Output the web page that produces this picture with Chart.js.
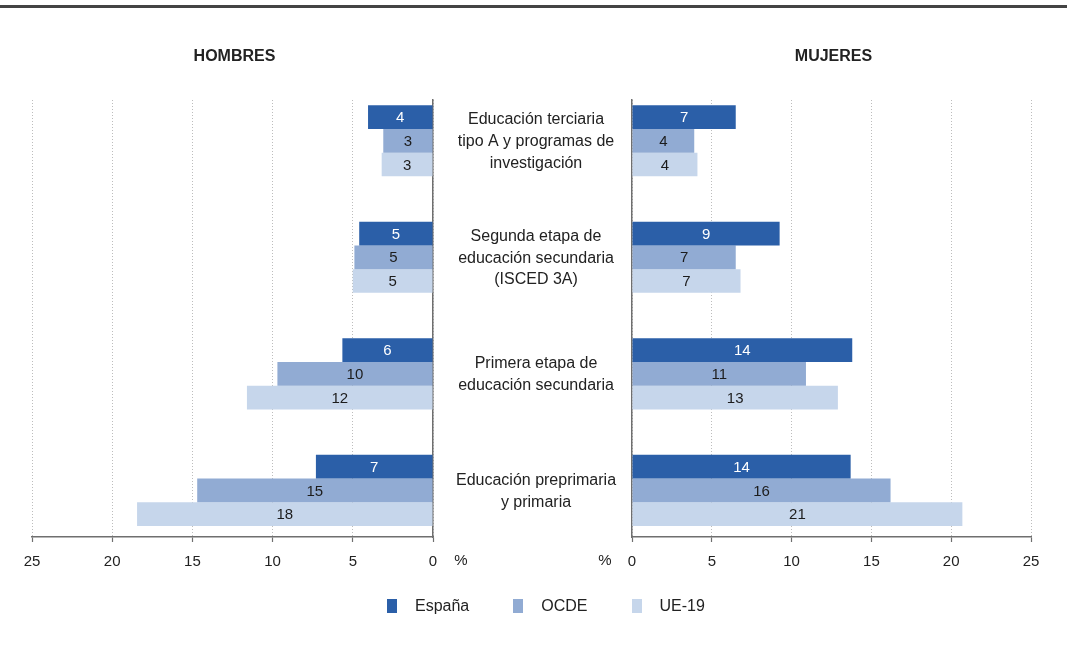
<!DOCTYPE html>
<html lang="es">
<head>
<meta charset="utf-8">
<title>Hombres / Mujeres</title>
<script src="https://cdn.jsdelivr.net/npm/chart.js@4.4.1/dist/chart.umd.min.js"></script>
<style>
  html, body { margin: 0; padding: 0; background: #fff; }
  #wrap { position: relative; width: 1067px; height: 669px; background: #fff; overflow: hidden;
          font-family: 'Liberation Sans', Arial, sans-serif; color: #222; }
  #wrap canvas { position: absolute; left: 0; top: 0; }
  #topline { position: absolute; left: 0; top: 5px; width: 1067px; height: 3px; background: #444; }
  #legend { position: absolute; left: 387px; top: 597px; display: flex; align-items: center; gap: 44px; font-size: 16px; }
  #legend .item { display: flex; align-items: center; }
  #legend .sw { width: 10px; height: 14px; margin-right: 18px; }
</style>
</head>
<body>
<div id="wrap">
  <div id="topline"></div>
  <canvas id="left-chart" width="1067" height="669"></canvas>
  <canvas id="right-chart" width="1067" height="669"></canvas>
  <div id="legend"></div>
</div>
<script>
// ── Data ──────────────────────────────────────────────────────
const categories = [
  ['Educación terciaria', 'tipo A y programas de', 'investigación'],
  ['Segunda etapa de', 'educación secundaria', '(ISCED 3A)'],
  ['Primera etapa de', 'educación secundaria'],
  ['Educación preprimaria', 'y primaria'],
];
const seriesNames = ['España', 'OCDE', 'UE-19'];
const seriesColors = ['#2b5fa8', '#91abd3', '#c6d6eb'];
const labelColors = ['#ffffff', '#1c1c1c', '#1c1c1c'];

const hombresEspana = [4.05, 4.6, 5.65, 7.3];
const hombresOcde   = [3.1, 4.9, 9.7, 14.7];
const hombresUe19   = [3.2, 5.0, 11.6, 18.45];

const mujeresEspana = [6.5, 9.25, 13.8, 13.7];
const mujeresOcde   = [3.9, 6.5, 10.9, 16.2];
const mujeresUe19   = [4.1, 6.8, 12.9, 20.7];

const xTicks = [0, 5, 10, 15, 20, 25];

const FONT = "'Liberation Sans', Arial, sans-serif";
const TEXT = '#222';

// ── Helpers ───────────────────────────────────────────────────
function makeDatasets(seriesValues) {
  return seriesValues.map((vals, s) => ({
    label: seriesNames[s],
    data: vals.map((v, i) => ({ x: v, y: i })),
    backgroundColor: seriesColors[s],
    borderWidth: 0,
    categoryPercentage: 0.61,
    barPercentage: 1,
  }));
}

function xScale(reverse) {
  return {
    type: 'linear', min: 0, max: 25, reverse,
    afterBuildTicks: (axis) => { axis.ticks = xTicks.map(v => ({ value: v })); },
    grid: { color: '#bdbdbd', lineWidth: 1, tickLength: 5, tickColor: '#6f6f6f', tickWidth: 1.2, tickBorderDash: [] },
    border: { color: '#6f6f6f', width: 1.5, dash: [1, 2] },
    ticks: { color: TEXT, padding: 11, font: { family: FONT, size: 15 } },
  };
}

function yScale(position) {
  return {
    type: 'linear', position, reverse: true, offset: false,
    min: -0.35, max: 3.4,
    // one tick per category so bar thickness follows the category spacing
    afterBuildTicks: (axis) => { axis.ticks = categories.map((c, i) => ({ value: i })); },
    grid: { display: false, drawTicks: false },
    border: { color: '#6f6f6f', width: 1.5 },
    ticks: { display: false },
  };
}

// labels inside the bars, titles, % marks
const decorations = {
  id: 'decorations',
  afterDatasetsDraw(chart) {
    const { ctx } = chart;
    ctx.save();
    ctx.font = `15px ${FONT}`;
    ctx.textAlign = 'center';
    ctx.textBaseline = 'middle';
    chart.data.datasets.forEach((ds, di) => {
      chart.getDatasetMeta(di).data.forEach((bar, i) => {
        const { x, y, base } = bar.getProps(['x', 'y', 'base'], true);
        ctx.fillStyle = labelColors[di];
        ctx.fillText(String(Math.round(ds.data[i].x)), (x + base) / 2, y + 1);
      });
    });
    ctx.restore();
  },
  afterDraw(chart, args, opts) {
    const { ctx, chartArea } = chart;
    const xs = chart.scales.x, ys = chart.scales.y;
    ctx.save();
    ctx.fillStyle = TEXT;
    ctx.textAlign = 'center';
    ctx.textBaseline = 'middle';
    ctx.font = `bold 16px ${FONT}`;
    ctx.fillText(opts.title, (chartArea.left + chartArea.right) / 2 + 2, 57);

    ctx.font = `15px ${FONT}`;
    ctx.fillText('%', xs.getPixelForValue(0) + opts.pct, 561);

    if (opts.categories) {
      ctx.font = `16px ${FONT}`;
      const lh = 21.7;
      categories.forEach((lines, i) => {
        const cy = ys.getPixelForValue(i) + 1;
        lines.forEach((line, k) => {
          ctx.fillText(line, 536, cy + (k - (lines.length - 1) / 2) * lh);
        });
      });
    }
    ctx.restore();
  },
};

function buildChart(id, seriesValues, side) {
  const isLeft = side === 'left';
  return new Chart(document.getElementById(id), {
    type: 'bar',
    data: { datasets: makeDatasets(seriesValues) },
    options: {
      indexAxis: 'y',
      responsive: false,
      animation: false,
      layout: {
        padding: isLeft
          ? { left: 32, right: 634, top: 100, bottom: 87 }
          : { left: 632, right: 36, top: 100, bottom: 87 },
      },
      scales: {
        x: xScale(isLeft),
        y: yScale(isLeft ? 'right' : 'left'),
      },
      plugins: {
        legend: { display: false },
        tooltip: { enabled: false },
        decorations: {
          title: isLeft ? 'HOMBRES' : 'MUJERES',
          pct: isLeft ? 28 : -27,
          categories: isLeft,
        },
      },
    },
    plugins: [decorations],
  });
}

buildChart('left-chart', [hombresEspana, hombresOcde, hombresUe19], 'left');
buildChart('right-chart', [mujeresEspana, mujeresOcde, mujeresUe19], 'right');

// ── Legend ────────────────────────────────────────────────────
document.getElementById('legend').innerHTML = seriesNames.map((n, i) => `
  <div class="item"><div class="sw" style="background:${seriesColors[i]}"></div><span>${n}</span></div>
`).join('');
</script>
</body>
</html>
